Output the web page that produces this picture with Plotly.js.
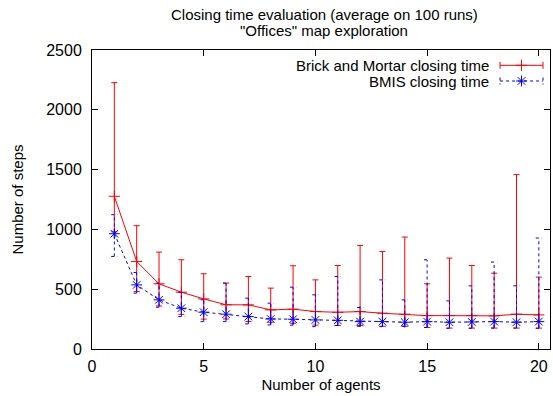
<!DOCTYPE html>
<html>
<head>
<meta charset="utf-8">
<script src="https://cdn.plot.ly/plotly-3.0.1.min.js"></script>
<style>html,body{margin:0;padding:0;background:#fff;}#chart{width:553px;height:396px;}</style>
</head>
<body>
<div id="chart"></div>
<script>
// ---- data ----
const agents = [1,2,3,4,5,6,7,8,9,10,11,12,13,14,15,16,17,18,19,20];
const bmMean = [1277,732,545,475,419,370,369,327,333,313,307,313,299,291,279,279,279,277,291,285];
const bmHigh = [2227,1031,810,746,629,551,606,509,696,578,698,866,816,936,545,760,698,634,1458,601];
const bmLow  = [980,480,360,290,250,251,230,224,215,200,196,196,190,190,180,175,175,175,175,175];
const bmisMean = [964,536,411,341,308,291,271,251,249,243,240,229,229,224,229,224,226,229,224,229];
const bmisHigh = [1123,640,551,475,411,551,425,383,517,453,606,347,578,411,746,402,528,727,528,928];
const bmisLow  = [774,467,349,271,229,229,210,201,199,187,196,190,187,190,180,173,173,175,175,173];
const xTicks = [0,5,10,15,20];
const yTicks = [0,500,1000,1500,2000,2500];
const seriesNames = ['Brick and Mortar closing time','BMIS closing time'];
const titleLines = ['Closing time evaluation (average on 100 runs)','"Offices" map exploration'];

const FONT = 'Liberation Sans, Arial, sans-serif';
const FS = 15;      // titles / legend
const FT = 16;      // tick labels

// blue dotted error bars built from data
const capHalf = 0.14;
const bx = [], by = [];
agents.forEach((a,i)=>{
  bx.push(a,a,null, a-capHalf,a+capHalf,null, a-capHalf,a+capHalf,null);
  by.push(bmisLow[i],bmisHigh[i],null, bmisHigh[i],bmisHigh[i],null, bmisLow[i],bmisLow[i],null);
});

const traces = [
  {
    x: agents, y: bmMean, type:'scatter', mode:'lines+markers', name: seriesNames[0],
    line:{color:'#ff0000', width:1},
    marker:{symbol:'cross-thin-open', size:8, color:'#ff0000', line:{color:'#ff0000', width:1}},
    error_y:{type:'data', symmetric:false,
      array: bmHigh.map((h,i)=>h-bmMean[i]),
      arrayminus: bmLow.map((l,i)=>bmMean[i]-l),
      color:'#ff0000', thickness:1, width:3},
    showlegend:false
  },
  {
    x: bx, y: by, type:'scatter', mode:'lines', hoverinfo:'skip',
    line:{color:'#0000ff', width:1, dash:'dot'}, showlegend:false
  },
  {
    x: agents, y: bmisMean, type:'scatter', mode:'lines+markers', name: seriesNames[1],
    line:{color:'#0000ff', width:1, dash:'dot'},
    marker:{symbol:'asterisk-open', size:9, color:'#0000ff', line:{color:'#0000ff', width:1}},
    showlegend:false
  },
  // legend samples (pixel-space overlay axes)
  { x:[500,543,null,500,500,null,543,543], y:[65.3,65.3,null,61.8,68.8,null,61.8,68.8],
    xaxis:'x2', yaxis:'y2', mode:'lines', line:{color:'#ff0000', width:1}, showlegend:false, hoverinfo:'skip'},
  { x:[521.5], y:[65.3], xaxis:'x2', yaxis:'y2', mode:'markers',
    marker:{symbol:'cross-thin-open', size:8, color:'#ff0000', line:{color:'#ff0000', width:1}}, showlegend:false, hoverinfo:'skip'},
  { x:[500,543,null,500,500,null,543,543], y:[81,81,null,77.5,84.5,null,77.5,84.5],
    xaxis:'x2', yaxis:'y2', mode:'lines', line:{color:'#0000ff', width:1, dash:'dot'}, showlegend:false, hoverinfo:'skip'},
  { x:[521.5], y:[81], xaxis:'x2', yaxis:'y2', mode:'markers',
    marker:{symbol:'asterisk-open', size:9, color:'#0000ff', line:{color:'#0000ff', width:1}}, showlegend:false, hoverinfo:'skip'}
];

const axisCommon = {
  showline:true, linecolor:'#000', linewidth:1, mirror:'ticks',
  ticks:'inside', ticklen:6, tickcolor:'#000', tickwidth:1,
  showgrid:false, zeroline:false,
  tickfont:{family:FONT, size:FT, color:'#000'}
};

const layout = {
  width:553, height:396,
  margin:{l:91.5, r:3, t:50, b:47, pad:0},
  paper_bgcolor:'#fff', plot_bgcolor:'#fff',
  font:{family:FONT, size:FS, color:'#000'},
  xaxis: Object.assign({}, axisCommon, {range:[0,20.5], tickvals:xTicks, ticktext:xTicks.map(String),
         ticklabelstandoff:3,
         title:{text:'Number of agents', font:{family:FONT,size:FS,color:'#000'}, standoff:5}}),
  yaxis: Object.assign({}, axisCommon, {range:[0,2500], tickvals:yTicks, ticktext:yTicks.map(String),
         ticklabelstandoff:6,
         title:{text:'Number of steps', font:{family:FONT,size:FS,color:'#000'}, standoff:18}}),
  xaxis2:{overlaying:'x', anchor:'y2', range:[91.5,550], visible:false, fixedrange:true},
  yaxis2:{overlaying:'y', anchor:'x2', range:[349,50], visible:false, fixedrange:true},
  annotations:[
    {text:titleLines[0], xref:'paper', yref:'paper', x:0.507, y:(349-14.5)/299, xanchor:'center', yanchor:'middle', showarrow:false,
     font:{family:FONT,size:FS,color:'#000'}},
    {text:titleLines[1], xref:'paper', yref:'paper', x:0.507, y:(349-30)/299, xanchor:'center', yanchor:'middle', showarrow:false,
     font:{family:FONT,size:FS,color:'#000'}},
    {text:seriesNames[0], xref:'x2', yref:'y2', x:491, y:65.3, xanchor:'right', yanchor:'middle', showarrow:false,
     font:{family:FONT,size:FS,color:'#000'}},
    {text:seriesNames[1], xref:'x2', yref:'y2', x:491, y:81, xanchor:'right', yanchor:'middle', showarrow:false,
     font:{family:FONT,size:FS,color:'#000'}}
  ],
  showlegend:false
};

Plotly.newPlot('chart', traces, layout, {displayModeBar:false, staticPlot:true});
</script>
</body>
</html>
